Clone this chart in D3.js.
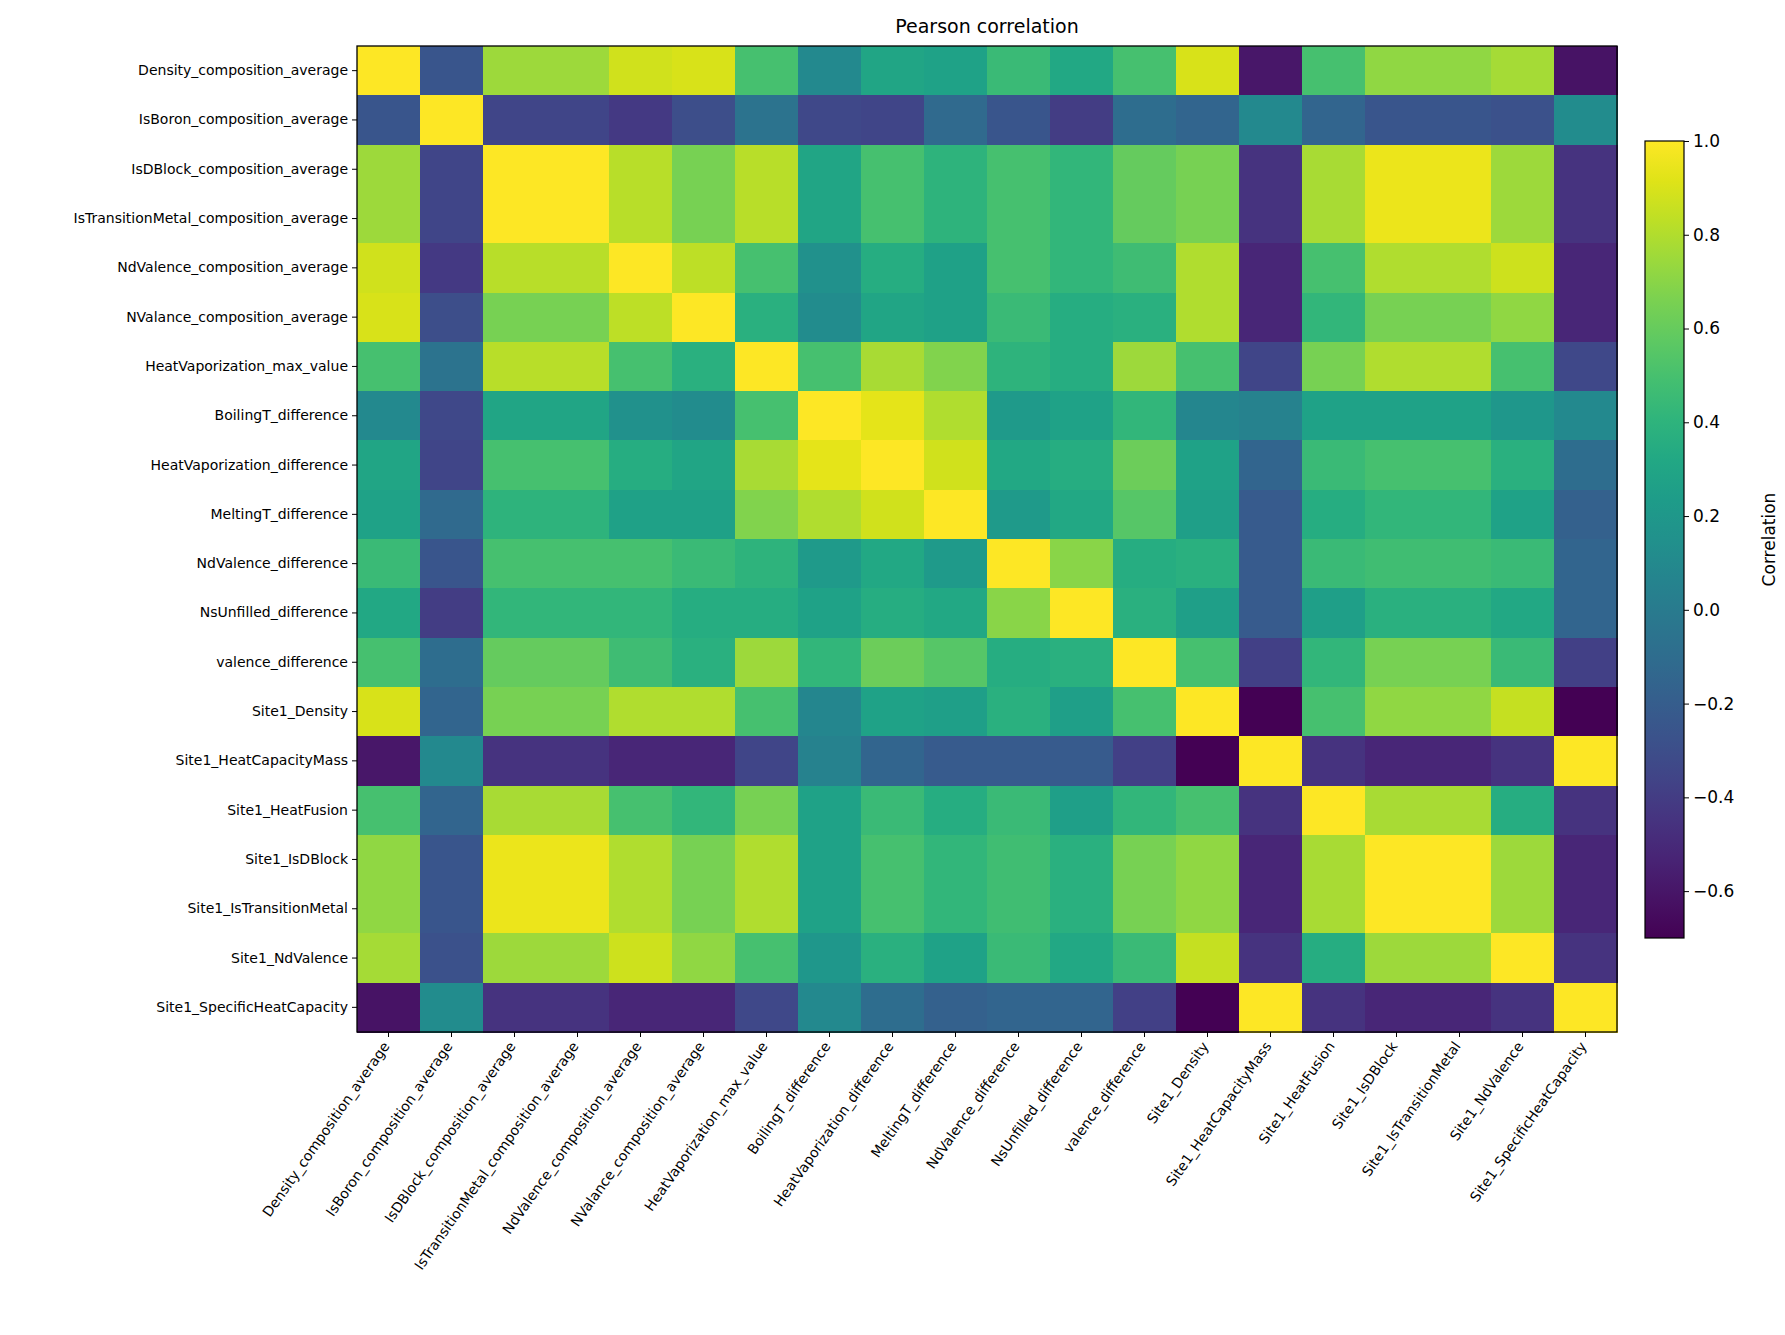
<!DOCTYPE html><html><head><meta charset="utf-8"><script src="https://cdn.jsdelivr.net/npm/d3@7"></script>
<style>body{margin:0;background:#fff}svg{font-family:"DejaVu Sans",sans-serif}</style></head><body>
<svg id="c" width="1785" height="1335"></svg>
<script>
const labels=["Density_composition_average","IsBoron_composition_average","IsDBlock_composition_average","IsTransitionMetal_composition_average","NdValence_composition_average","NValance_composition_average","HeatVaporization_max_value","BoilingT_difference","HeatVaporization_difference","MeltingT_difference","NdValence_difference","NsUnfilled_difference","valence_difference","Site1_Density","Site1_HeatCapacityMass","Site1_HeatFusion","Site1_IsDBlock","Site1_IsTransitionMetal","Site1_NdValence","Site1_SpecificHeatCapacity"];
const matrix=[
[1,-0.25,0.75,0.75,0.88,0.9,0.5,0.1,0.3,0.28,0.45,0.32,0.5,0.9,-0.6,0.5,0.72,0.72,0.77,-0.62],
[-0.25,1,-0.35,-0.35,-0.42,-0.3,-0.05,-0.33,-0.35,-0.12,-0.25,-0.4,-0.1,-0.15,0.1,-0.15,-0.25,-0.25,-0.28,0.12],
[0.75,-0.35,1,1,0.82,0.65,0.82,0.3,0.5,0.4,0.5,0.42,0.6,0.65,-0.45,0.78,0.95,0.95,0.75,-0.45],
[0.75,-0.35,1,1,0.82,0.65,0.82,0.3,0.5,0.4,0.5,0.42,0.6,0.65,-0.45,0.78,0.95,0.95,0.75,-0.45],
[0.88,-0.42,0.82,0.82,1,0.83,0.5,0.15,0.35,0.27,0.5,0.42,0.47,0.8,-0.52,0.5,0.8,0.8,0.87,-0.52],
[0.9,-0.3,0.65,0.65,0.83,1,0.38,0.12,0.3,0.27,0.45,0.35,0.38,0.8,-0.52,0.42,0.65,0.65,0.72,-0.52],
[0.5,-0.05,0.82,0.82,0.5,0.38,1,0.5,0.78,0.68,0.4,0.35,0.75,0.5,-0.35,0.65,0.8,0.8,0.5,-0.33],
[0.1,-0.33,0.3,0.3,0.15,0.12,0.5,1,0.93,0.8,0.22,0.28,0.42,0.08,0.05,0.28,0.28,0.28,0.2,0.1],
[0.3,-0.35,0.5,0.5,0.35,0.3,0.78,0.93,1,0.88,0.32,0.35,0.62,0.28,-0.15,0.45,0.5,0.5,0.38,-0.1],
[0.28,-0.12,0.4,0.4,0.27,0.27,0.68,0.8,0.88,1,0.22,0.32,0.55,0.25,-0.22,0.35,0.42,0.42,0.28,-0.18],
[0.45,-0.25,0.5,0.5,0.5,0.45,0.4,0.22,0.32,0.22,1,0.7,0.35,0.38,-0.22,0.45,0.48,0.48,0.45,-0.15],
[0.32,-0.4,0.42,0.42,0.42,0.35,0.35,0.28,0.35,0.32,0.7,1,0.38,0.25,-0.22,0.25,0.38,0.38,0.32,-0.15],
[0.5,-0.1,0.6,0.6,0.47,0.38,0.75,0.42,0.62,0.55,0.35,0.38,1,0.5,-0.38,0.42,0.65,0.65,0.45,-0.38],
[0.9,-0.15,0.65,0.65,0.8,0.8,0.5,0.08,0.28,0.25,0.38,0.25,0.5,1,-0.7,0.5,0.72,0.72,0.85,-0.7],
[-0.6,0.1,-0.45,-0.45,-0.52,-0.52,-0.35,0.05,-0.15,-0.22,-0.22,-0.22,-0.38,-0.7,1,-0.45,-0.52,-0.52,-0.45,1],
[0.5,-0.15,0.78,0.78,0.5,0.42,0.65,0.28,0.45,0.35,0.45,0.25,0.42,0.5,-0.45,1,0.78,0.78,0.35,-0.45],
[0.72,-0.25,0.95,0.95,0.8,0.65,0.8,0.28,0.5,0.42,0.48,0.38,0.65,0.72,-0.52,0.78,1,1,0.75,-0.52],
[0.72,-0.25,0.95,0.95,0.8,0.65,0.8,0.28,0.5,0.42,0.48,0.38,0.65,0.72,-0.52,0.78,1,1,0.75,-0.52],
[0.77,-0.28,0.75,0.75,0.87,0.72,0.5,0.2,0.38,0.28,0.45,0.32,0.45,0.85,-0.45,0.35,0.75,0.75,1,-0.45],
[-0.62,0.12,-0.45,-0.45,-0.52,-0.52,-0.33,0.1,-0.1,-0.18,-0.15,-0.15,-0.38,-0.7,1,-0.45,-0.52,-0.52,-0.45,1]];
const cbTicks=[-0.6,-0.4,-0.2,0,0.2,0.4,0.6,0.8,1.0];
const vmin=-0.7,vmax=1.0;
const svg=d3.select("#c");
const L=357,R=1617,T=46,B=1032;
const x=d3.scaleBand().domain(labels).range([L,R]);
const y=d3.scaleBand().domain(labels).range([T,B]);
const color=d3.scaleSequential(d3.interpolateViridis).domain([vmin,vmax]);
const cells=[];matrix.forEach((r,i)=>r.forEach((v,j)=>cells.push({i,j,v})));
svg.append("g").selectAll("rect").data(cells).join("rect")
 .attr("x",d=>x(labels[d.j])).attr("y",d=>y(labels[d.i]))
 .attr("width",x.bandwidth()+0.5).attr("height",y.bandwidth()+0.5)
 .attr("fill",d=>color(d.v)).attr("shape-rendering","crispEdges");
svg.append("rect").attr("x",L).attr("y",T).attr("width",R-L).attr("height",B-T).attr("fill","none").attr("stroke","#000").attr("stroke-width",1.3);
const ya=svg.append("g").attr("transform",`translate(${L},0)`).call(d3.axisLeft(y).tickSize(5).tickPadding(4));
ya.select(".domain").remove();ya.selectAll("text").attr("font-size",14).attr("font-family","DejaVu Sans");
const xa=svg.append("g").attr("transform",`translate(0,${B})`).call(d3.axisBottom(x).tickSize(5).tickPadding(4));
xa.select(".domain").remove();
xa.selectAll("text").attr("font-size",14).attr("font-family","DejaVu Sans")
 .attr("text-anchor","end").attr("dy","0.35em").attr("transform","translate(0,8) rotate(-55)").attr("y",0).attr("x",-4);
svg.append("text").attr("x",(L+R)/2).attr("y",33).attr("text-anchor","middle").attr("font-size",19).text("Pearson correlation");
// colorbar
const cx=1645,cw=39,cT=141,cB=938;
const cy=d3.scaleLinear().domain([vmin,vmax]).range([cB,cT]);
const defs=svg.append("defs");
const g=defs.append("linearGradient").attr("id","cb").attr("x1",0).attr("y1",1).attr("x2",0).attr("y2",0);
d3.range(0,1.0001,0.05).forEach(t=>g.append("stop").attr("offset",t).attr("stop-color",d3.interpolateViridis(t)));
svg.append("rect").attr("x",cx).attr("y",cT).attr("width",cw).attr("height",cB-cT).attr("fill","url(#cb)").attr("stroke","#000").attr("stroke-width",1.2);
const ca=svg.append("g").attr("transform",`translate(${cx+cw},0)`).call(d3.axisRight(cy).tickValues(cbTicks).tickSize(5).tickPadding(4).tickFormat(d=>d3.format(".1f")(d).replace("-","\u2212")));
ca.select(".domain").remove();ca.selectAll("text").attr("font-size",17).attr("font-family","DejaVu Sans");
svg.append("text").attr("transform",`translate(1775,${(cT+cB)/2}) rotate(-90)`).attr("text-anchor","middle").attr("font-size",17).text("Correlation");
</script></body></html>
